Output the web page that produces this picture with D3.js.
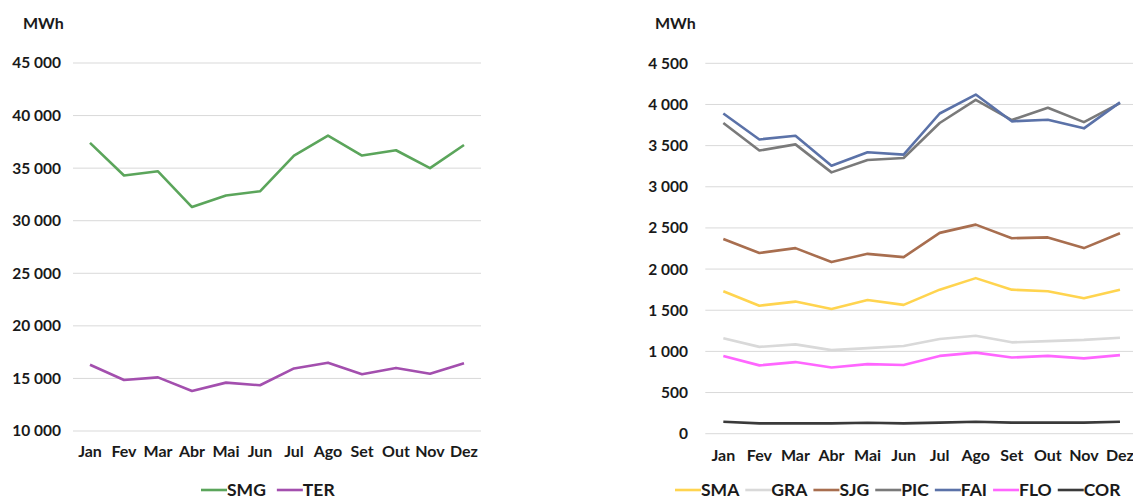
<!DOCTYPE html>
<html>
<head>
<meta charset="utf-8">
<script src="https://cdn.jsdelivr.net/npm/d3@7"></script>
<style>
  html, body { margin: 0; padding: 0; background: #fff; }
  svg { display: block; }
  text { font-family: Lato, "Open Sans", sans-serif; font-weight: 700; fill: #1a1a1a; }
</style>
</head>
<body>
<svg id="chart" width="1133" height="500"></svg>
<script>
// Monthly energy production, MWh
const months = ["Jan", "Fev", "Mar", "Abr", "Mai", "Jun", "Jul", "Ago", "Set", "Out", "Nov", "Dez"];

// Large islands
const SMG = [37400, 34300, 34700, 31300, 32400, 32800, 36200, 38100, 36200, 36700, 35000, 37200];
const TER = [16300, 14850, 15100, 13800, 14600, 14350, 15950, 16500, 15400, 16000, 15450, 16450];
const leftTicks = [10000, 15000, 20000, 25000, 30000, 35000, 40000, 45000];

// Smaller islands
const SMA = [1730, 1555, 1605, 1515, 1625, 1565, 1750, 1890, 1750, 1730, 1645, 1750];
const GRA = [1160, 1055, 1085, 1015, 1040, 1065, 1150, 1190, 1110, 1125, 1140, 1165];
const SJG = [2365, 2195, 2255, 2085, 2185, 2145, 2440, 2540, 2375, 2385, 2255, 2435];
const PIC = [3775, 3440, 3515, 3175, 3325, 3350, 3775, 4055, 3810, 3960, 3785, 4015];
const FAI = [3890, 3575, 3620, 3255, 3420, 3390, 3890, 4120, 3795, 3815, 3710, 4025];
const FLO = [945, 830, 870, 805, 845, 835, 945, 985, 925, 945, 915, 955];
const COR = [145, 125, 125, 125, 133, 125, 135, 145, 135, 135, 135, 145];
const rightTicks = [0, 500, 1000, 1500, 2000, 2500, 3000, 3500, 4000, 4500];

const leftSeries = [
  { name: "SMG", values: SMG, color: "#5ba55b" },
  { name: "TER", values: TER, color: "#a34fae" }
];
const rightSeries = [
  { name: "SMA", values: SMA, color: "#ffd44f" },
  { name: "GRA", values: GRA, color: "#d9d9d9" },
  { name: "SJG", values: SJG, color: "#a86e4f" },
  { name: "PIC", values: PIC, color: "#7a7a7a" },
  { name: "FAI", values: FAI, color: "#5b72a8" },
  { name: "FLO", values: FLO, color: "#ff66ff" },
  { name: "COR", values: COR, color: "#3a3a3a" }
];

const locale = d3.formatLocale({ decimal: ",", thousands: " ", grouping: [3], currency: ["", ""] });
const fmt = locale.format(",d");

const svg = d3.select("#chart");

function drawPanel(cfg) {
  const g = svg.append("g");
  const x = d3.scaleBand().domain(months).range([cfg.x0, cfg.x1]);
  const y = d3.scaleLinear().domain(cfg.domain).range([cfg.y0, cfg.y1]);

  // horizontal gridlines
  g.append("g")
    .selectAll("line")
    .data(cfg.ticks)
    .join("line")
    .attr("x1", cfg.x0).attr("x2", cfg.x1)
    .attr("y1", d => y(d)).attr("y2", d => y(d))
    .attr("stroke", "#d9d9d9").attr("stroke-width", 1);

  // y axis labels
  const yAxis = d3.axisLeft(y).tickValues(cfg.ticks).tickFormat(fmt).tickSize(0).tickPadding(0);
  const ya = g.append("g").attr("transform", `translate(${cfg.yLabelX},0)`).call(yAxis);
  ya.select(".domain").remove();
  ya.selectAll("text").attr("font-size", 15.5).attr("font-family", null).attr("fill", "#1a1a1a");

  // x axis labels
  const xAxis = d3.axisBottom(x).tickSize(0).tickPadding(0);
  const xa = g.append("g").attr("transform", `translate(0,${cfg.xLabelY})`).call(xAxis);
  xa.select(".domain").remove();
  xa.selectAll("text").attr("font-size", 16).attr("font-family", null).attr("fill", "#1a1a1a");

  // unit
  g.append("text").attr("x", cfg.unitX).attr("y", cfg.unitY)
    .attr("font-size", 16).text("MWh");

  // series lines
  const line = d3.line()
    .x((d, i) => x(months[i]) + x.bandwidth() / 2)
    .y(d => y(d));
  g.append("g")
    .selectAll("path")
    .data(cfg.series)
    .join("path")
    .attr("d", s => line(s.values))
    .attr("fill", "none")
    .attr("stroke", s => s.color)
    .attr("stroke-width", 2.6)
    .attr("stroke-linejoin", "round");

  // legend
  const lg = g.append("g").attr("transform", `translate(${cfg.legendX},${cfg.legendY})`);
  let cx = 0;
  cfg.series.forEach(s => {
    lg.append("line").attr("x1", cx).attr("x2", cx + 26).attr("y1", 0).attr("y2", 0)
      .attr("stroke", s.color).attr("stroke-width", 2.6);
    const t = lg.append("text").attr("x", cx + 26).attr("y", 0).attr("dy", "0.36em")
      .attr("font-size", 17.5).text(s.name);
    cx += 26 + t.node().getComputedTextLength() + cfg.legendGap;
  });
}

drawPanel({
  x0: 73, x1: 481, y0: 431, y1: 63, domain: [10000, 45000], ticks: leftTicks,
  yLabelX: 61, xLabelY: 446, unitX: 23, unitY: 29,
  series: leftSeries, legendX: 201, legendY: 490, legendGap: 11
});

drawPanel({
  x0: 705.3, x1: 1138, y0: 433.7, y1: 63.3, domain: [0, 4500], ticks: rightTicks,
  yLabelX: 688, xLabelY: 450, unitX: 655, unitY: 29,
  series: rightSeries, legendX: 675, legendY: 490, legendGap: 6
});
</script>
</body>
</html>
